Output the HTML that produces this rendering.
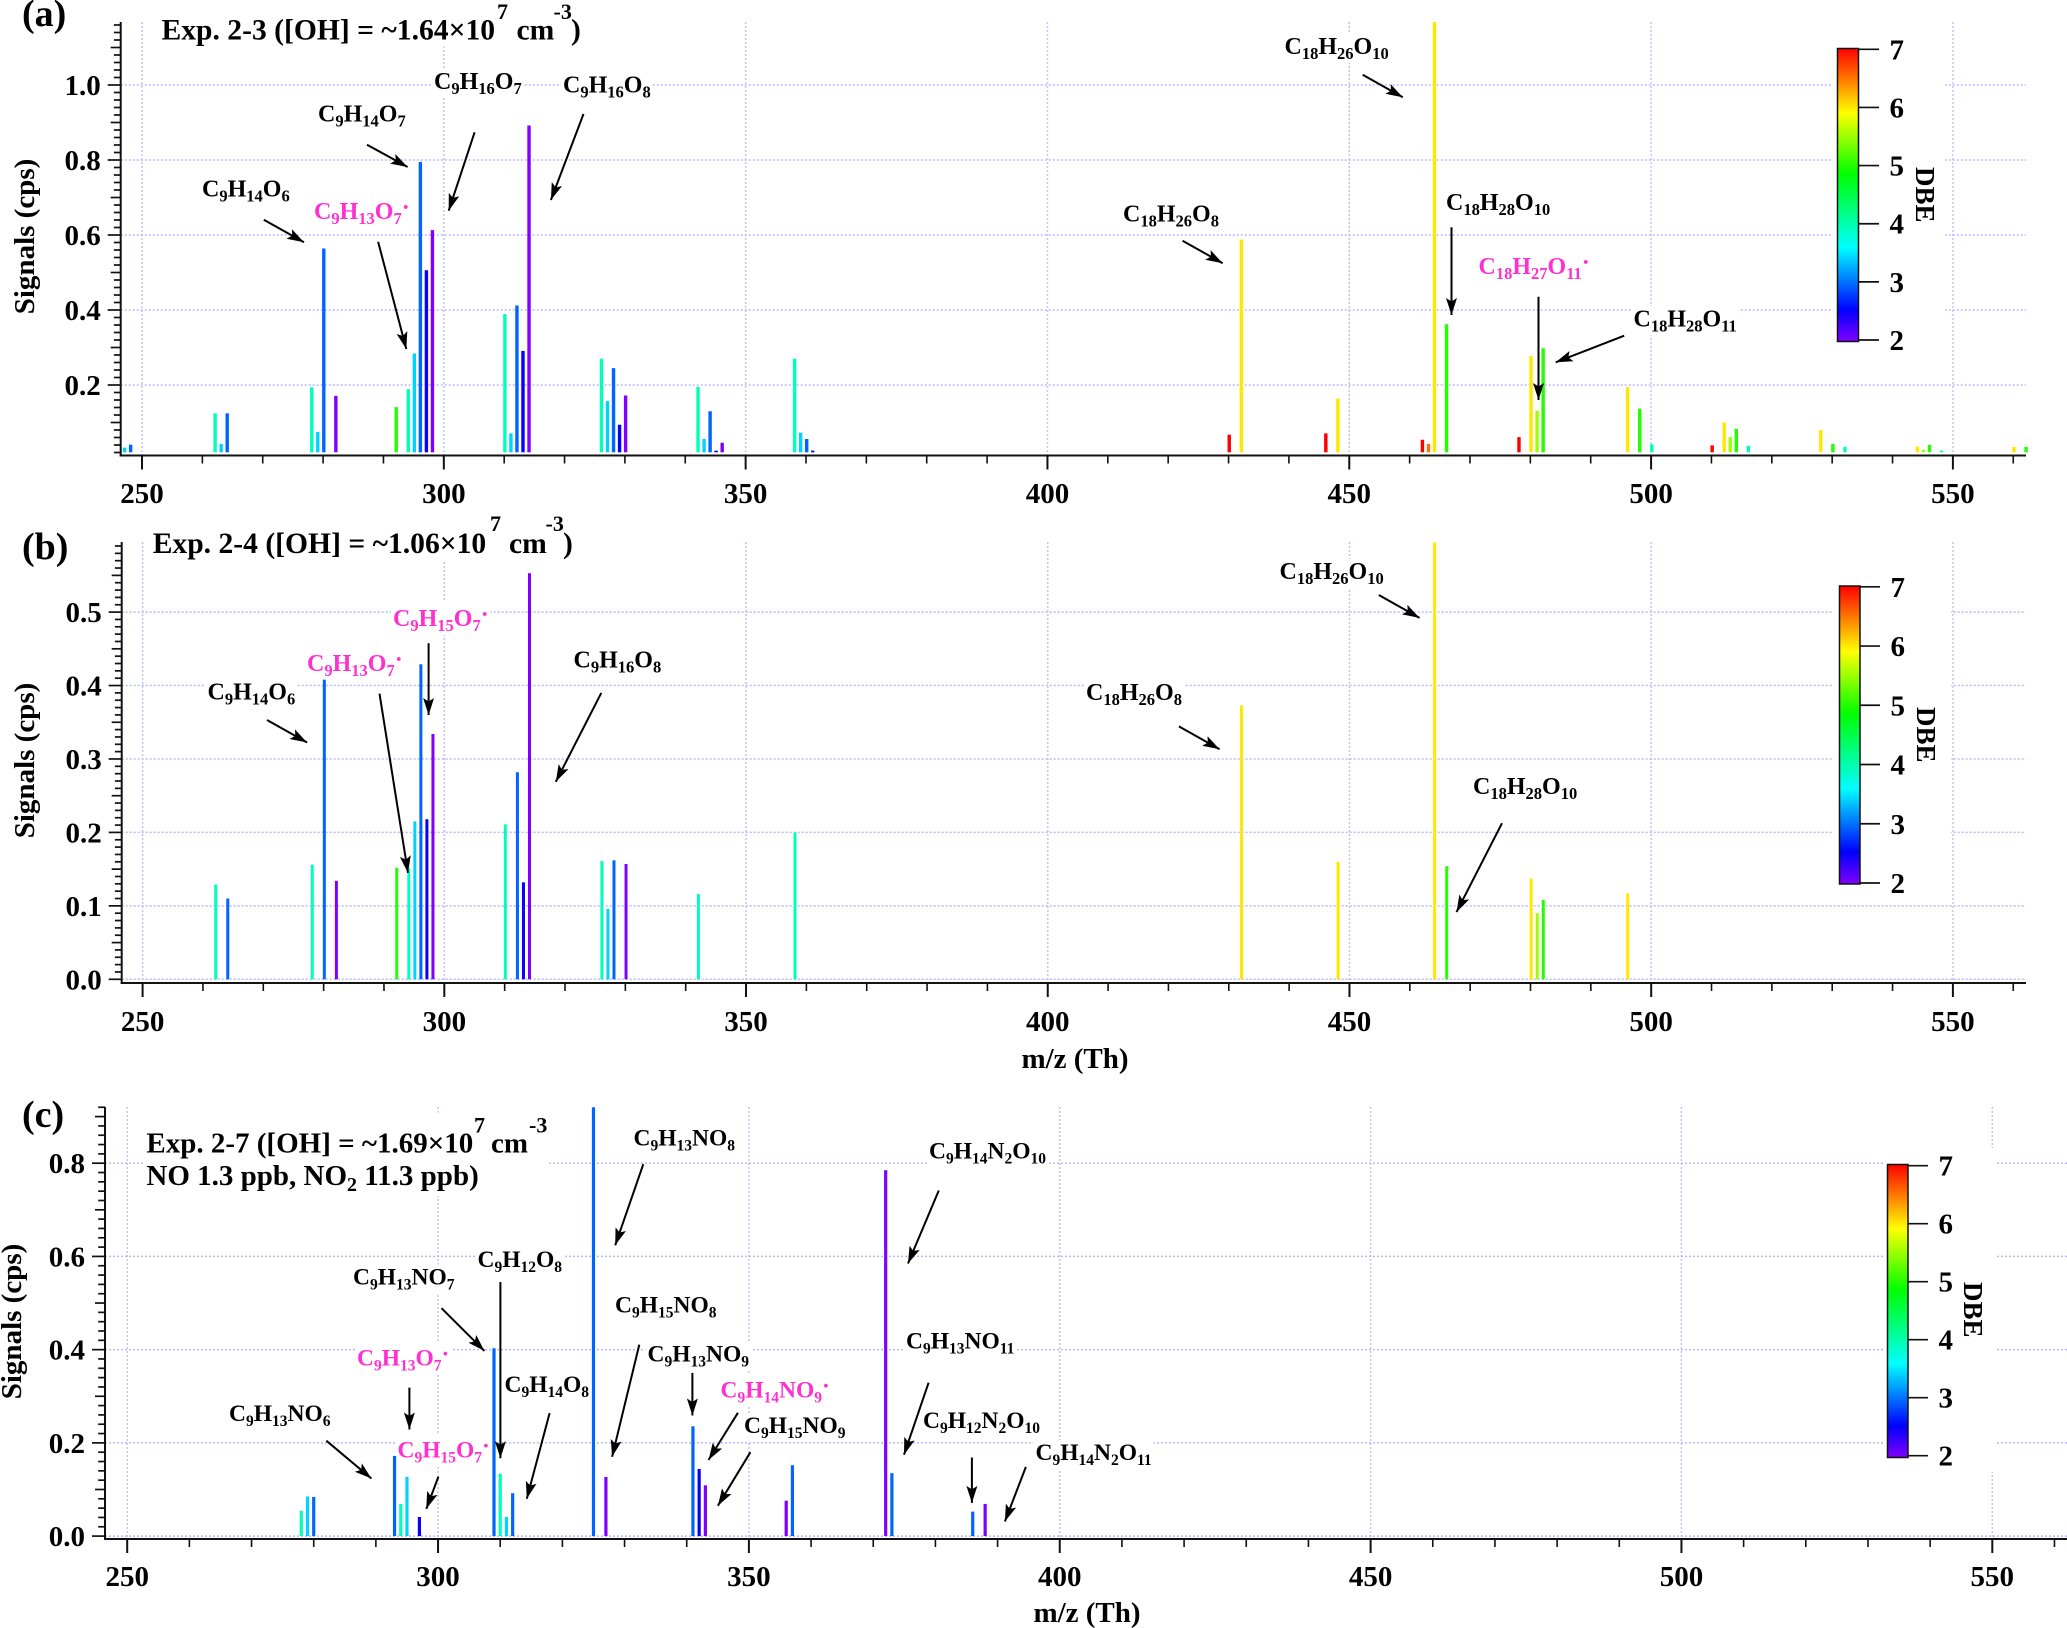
<!DOCTYPE html>
<html lang="en">
<head>
<meta charset="utf-8">
<title>Mass spectra coloured by DBE</title>
<style>
html,body{margin:0;padding:0;background:#fff;}
svg{display:block;font-family:"Liberation Serif",serif;font-weight:bold;}
.lbl{font-size:24px;fill:#000;}
.lbl.c{font-size:23.5px;}
.lbl tspan.s{font-size:16.5px;}
.lbl.c tspan.s{font-size:15.5px;}
.lbl.m{fill:#ff2fd0;}
.ttl{font-size:29.6px;fill:#000;}
.ttl.c{font-size:29px;}
.ttl tspan.u{font-size:22px;}
.ttl tspan.s{font-size:20px;}
.pl{font-size:38px;fill:#000;}
.tick{font-size:29px;fill:#000;}
.ax{font-size:29px;fill:#000;}
.dbe{font-size:27px;fill:#000;}
.arrow{stroke:#000;stroke-width:2;fill:none;}
</style>
</head>
<body>
<svg id="fig" xmlns="http://www.w3.org/2000/svg" width="2067" height="1628" viewBox="0 0 2067 1628">
<defs>
<marker id="ah" markerUnits="userSpaceOnUse" markerWidth="18" markerHeight="12" refX="17" refY="5.5" orient="auto">
<path d="M0 0 L17 5.5 L0 11 L3.5 5.5 Z" fill="#000"/>
</marker>
<linearGradient id="rainbow" x1="0" y1="0" x2="0" y2="1">
<stop offset="0" stop-color="#ff0000"/>
<stop offset="0.22" stop-color="#ffff00"/>
<stop offset="0.428" stop-color="#00ff00"/>
<stop offset="0.68" stop-color="#00ffff"/>
<stop offset="0.892" stop-color="#0000ff"/>
<stop offset="1" stop-color="#8000ff"/>
</linearGradient>
</defs>
<rect x="0" y="0" width="2067" height="1628" fill="#fff"/>
<g id="grid"></g>
<g id="mask">
<rect x="1833" y="30" width="112" height="325" fill="#fff"/>
<rect x="1834" y="570" width="117" height="325" fill="#fff"/>
<rect x="1883" y="1148" width="112" height="324" fill="#fff"/>
</g>
<g id="bars"></g>
<g id="axes"></g>

<!-- colour bars -->
<g>
<rect x="1837.5" y="48.5" width="21" height="293" fill="url(#rainbow)" stroke="#111" stroke-width="1.5"/>
<text class="dbe" transform="translate(1916,167) rotate(90)">DBE</text>
</g>
<g>
<rect x="1839.5" y="586" width="20.5" height="298" fill="url(#rainbow)" stroke="#111" stroke-width="1.5"/>
<text class="dbe" transform="translate(1917,707) rotate(90)">DBE</text>
</g>
<g>
<rect x="1887.5" y="1164.5" width="20.5" height="293" fill="url(#rainbow)" stroke="#111" stroke-width="1.5"/>
<text class="dbe" transform="translate(1964,1282) rotate(90)">DBE</text>
</g>

<!-- panel letters and titles -->
<text class="pl" x="22" y="26">(a)</text>
<text class="pl" x="22" y="559">(b)</text>
<text class="pl" x="22" y="1127">(c)</text>

<text class="ttl masked"><tspan x="161.5" y="39.5">Exp. 2-3 ([OH] = ~1.64×10</tspan><tspan class="u" x="497" y="19">7</tspan><tspan x="516.5" y="39.5">cm</tspan><tspan class="u" x="553.5" y="19">-3</tspan><tspan x="571" y="39.5">)</tspan></text>
<text class="ttl masked"><tspan x="152.7" y="553">Exp. 2-4 ([OH] = ~1.06×10</tspan><tspan class="u" x="490" y="531">7</tspan><tspan x="509" y="553">cm</tspan><tspan class="u" x="545.5" y="531">-3</tspan><tspan x="563" y="553">)</tspan></text>
<text class="ttl c masked"><tspan x="146.4" y="1152.5">Exp. 2-7 ([OH] = ~1.69×10</tspan><tspan class="u" x="474" y="1132.5">7</tspan><tspan x="491" y="1152.5">cm</tspan><tspan class="u" x="529" y="1132.5">-3</tspan><tspan x="146.4" y="1185">NO 1.3 ppb, NO</tspan><tspan class="s" dy="6">2</tspan><tspan dy="-6"> 11.3 ppb)</tspan></text>

<!-- axis titles -->
<text class="ax" text-anchor="middle" transform="translate(34,236.5) rotate(-90)">Signals (cps)</text>
<text class="ax" text-anchor="middle" transform="translate(34,760.5) rotate(-90)">Signals (cps)</text>
<text class="ax" text-anchor="middle" transform="translate(21,1321.5) rotate(-90)">Signals (cps)</text>
<text class="ax" text-anchor="middle" x="1075" y="1068">m/z (Th)</text>
<text class="ax" text-anchor="middle" x="1087" y="1622">m/z (Th)</text>

<!-- panel a annotations -->
<g>
<text class="lbl masked" x="202" y="196.5">C<tspan class="s" dy="5">9</tspan><tspan dy="-5">H</tspan><tspan class="s" dy="5">14</tspan><tspan dy="-5">O</tspan><tspan class="s" dy="5">6</tspan></text>
<text class="lbl masked" x="318" y="121.5">C<tspan class="s" dy="5">9</tspan><tspan dy="-5">H</tspan><tspan class="s" dy="5">14</tspan><tspan dy="-5">O</tspan><tspan class="s" dy="5">7</tspan></text>
<text class="lbl masked" x="434" y="89">C<tspan class="s" dy="5">9</tspan><tspan dy="-5">H</tspan><tspan class="s" dy="5">16</tspan><tspan dy="-5">O</tspan><tspan class="s" dy="5">7</tspan></text>
<text class="lbl masked" x="563" y="92.5">C<tspan class="s" dy="5">9</tspan><tspan dy="-5">H</tspan><tspan class="s" dy="5">16</tspan><tspan dy="-5">O</tspan><tspan class="s" dy="5">8</tspan></text>
<text class="lbl m masked" x="314" y="219">C<tspan class="s" dy="5">9</tspan><tspan dy="-5">H</tspan><tspan class="s" dy="5">13</tspan><tspan dy="-5">O</tspan><tspan class="s" dy="5">7</tspan><tspan dy="-9">·</tspan></text>
<text class="lbl masked" x="1284.5" y="54">C<tspan class="s" dy="5">18</tspan><tspan dy="-5">H</tspan><tspan class="s" dy="5">26</tspan><tspan dy="-5">O</tspan><tspan class="s" dy="5">10</tspan></text>
<text class="lbl masked" x="1123" y="221.5">C<tspan class="s" dy="5">18</tspan><tspan dy="-5">H</tspan><tspan class="s" dy="5">26</tspan><tspan dy="-5">O</tspan><tspan class="s" dy="5">8</tspan></text>
<text class="lbl masked" x="1446" y="210">C<tspan class="s" dy="5">18</tspan><tspan dy="-5">H</tspan><tspan class="s" dy="5">28</tspan><tspan dy="-5">O</tspan><tspan class="s" dy="5">10</tspan></text>
<text class="lbl m masked" x="1478.5" y="274">C<tspan class="s" dy="5">18</tspan><tspan dy="-5">H</tspan><tspan class="s" dy="5">27</tspan><tspan dy="-5">O</tspan><tspan class="s" dy="5">11</tspan><tspan dy="-9">·</tspan></text>
<text class="lbl masked" x="1633.5" y="326.5">C<tspan class="s" dy="5">18</tspan><tspan dy="-5">H</tspan><tspan class="s" dy="5">28</tspan><tspan dy="-5">O</tspan><tspan class="s" dy="5">11</tspan></text>
<line class="arrow" marker-end="url(#ah)" x1="263.8" y1="219.7" x2="304" y2="242.3"/>
<line class="arrow" marker-end="url(#ah)" x1="367" y1="144.7" x2="407.6" y2="167"/>
<line class="arrow" marker-end="url(#ah)" x1="474.6" y1="132.3" x2="448.7" y2="210.7"/>
<line class="arrow" marker-end="url(#ah)" x1="583.5" y1="114" x2="550.9" y2="200"/>
<line class="arrow" marker-end="url(#ah)" x1="378.1" y1="241.7" x2="406.3" y2="349"/>
<line class="arrow" marker-end="url(#ah)" x1="1362.7" y1="74.7" x2="1402.8" y2="97.3"/>
<line class="arrow" marker-end="url(#ah)" x1="1182.6" y1="240.7" x2="1222.7" y2="263.3"/>
<line class="arrow" marker-end="url(#ah)" x1="1451.5" y1="227.3" x2="1451.5" y2="315"/>
<line class="arrow" marker-end="url(#ah)" x1="1538.5" y1="296.7" x2="1538.5" y2="400"/>
<line class="arrow" marker-end="url(#ah)" x1="1624.2" y1="335.7" x2="1555.7" y2="362.3"/>
</g>

<!-- panel b annotations -->
<g>
<text class="lbl masked" x="207.5" y="699.5">C<tspan class="s" dy="5">9</tspan><tspan dy="-5">H</tspan><tspan class="s" dy="5">14</tspan><tspan dy="-5">O</tspan><tspan class="s" dy="5">6</tspan></text>
<text class="lbl m masked" x="307" y="671">C<tspan class="s" dy="5">9</tspan><tspan dy="-5">H</tspan><tspan class="s" dy="5">13</tspan><tspan dy="-5">O</tspan><tspan class="s" dy="5">7</tspan><tspan dy="-9">·</tspan></text>
<text class="lbl m masked" x="393" y="626">C<tspan class="s" dy="5">9</tspan><tspan dy="-5">H</tspan><tspan class="s" dy="5">15</tspan><tspan dy="-5">O</tspan><tspan class="s" dy="5">7</tspan><tspan dy="-9">·</tspan></text>
<text class="lbl masked" x="573.5" y="667.5">C<tspan class="s" dy="5">9</tspan><tspan dy="-5">H</tspan><tspan class="s" dy="5">16</tspan><tspan dy="-5">O</tspan><tspan class="s" dy="5">8</tspan></text>
<text class="lbl masked" x="1279.5" y="579">C<tspan class="s" dy="5">18</tspan><tspan dy="-5">H</tspan><tspan class="s" dy="5">26</tspan><tspan dy="-5">O</tspan><tspan class="s" dy="5">10</tspan></text>
<text class="lbl masked" x="1086" y="700">C<tspan class="s" dy="5">18</tspan><tspan dy="-5">H</tspan><tspan class="s" dy="5">26</tspan><tspan dy="-5">O</tspan><tspan class="s" dy="5">8</tspan></text>
<text class="lbl masked" x="1473" y="794">C<tspan class="s" dy="5">18</tspan><tspan dy="-5">H</tspan><tspan class="s" dy="5">28</tspan><tspan dy="-5">O</tspan><tspan class="s" dy="5">10</tspan></text>
<line class="arrow" marker-end="url(#ah)" x1="267" y1="720" x2="307.1" y2="742.5"/>
<line class="arrow" marker-end="url(#ah)" x1="379.5" y1="693.6" x2="408" y2="872.9"/>
<line class="arrow" marker-end="url(#ah)" x1="428.6" y1="643.2" x2="428.6" y2="715"/>
<line class="arrow" marker-end="url(#ah)" x1="601.3" y1="692.9" x2="555.8" y2="781.8"/>
<line class="arrow" marker-end="url(#ah)" x1="1378.8" y1="595" x2="1419.5" y2="617.9"/>
<line class="arrow" marker-end="url(#ah)" x1="1178.9" y1="726.4" x2="1219.6" y2="749.3"/>
<line class="arrow" marker-end="url(#ah)" x1="1502" y1="823.2" x2="1456.5" y2="912.1"/>
</g>

<!-- panel c annotations -->
<g>
<text class="lbl c masked" x="229" y="1421">C<tspan class="s" dy="5">9</tspan><tspan dy="-5">H</tspan><tspan class="s" dy="5">13</tspan><tspan dy="-5">NO</tspan><tspan class="s" dy="5">6</tspan></text>
<text class="lbl c masked" x="353" y="1284.5">C<tspan class="s" dy="5">9</tspan><tspan dy="-5">H</tspan><tspan class="s" dy="5">13</tspan><tspan dy="-5">NO</tspan><tspan class="s" dy="5">7</tspan></text>
<text class="lbl c masked" x="477.5" y="1267">C<tspan class="s" dy="5">9</tspan><tspan dy="-5">H</tspan><tspan class="s" dy="5">12</tspan><tspan dy="-5">O</tspan><tspan class="s" dy="5">8</tspan></text>
<text class="lbl c m masked" x="357" y="1365.5">C<tspan class="s" dy="5">9</tspan><tspan dy="-5">H</tspan><tspan class="s" dy="5">13</tspan><tspan dy="-5">O</tspan><tspan class="s" dy="5">7</tspan><tspan dy="-9">·</tspan></text>
<text class="lbl c masked" x="504.5" y="1392">C<tspan class="s" dy="5">9</tspan><tspan dy="-5">H</tspan><tspan class="s" dy="5">14</tspan><tspan dy="-5">O</tspan><tspan class="s" dy="5">8</tspan></text>
<text class="lbl c m masked" x="397.5" y="1457.5">C<tspan class="s" dy="5">9</tspan><tspan dy="-5">H</tspan><tspan class="s" dy="5">15</tspan><tspan dy="-5">O</tspan><tspan class="s" dy="5">7</tspan><tspan dy="-9">·</tspan></text>
<text class="lbl c masked" x="633.5" y="1145.5">C<tspan class="s" dy="5">9</tspan><tspan dy="-5">H</tspan><tspan class="s" dy="5">13</tspan><tspan dy="-5">NO</tspan><tspan class="s" dy="5">8</tspan></text>
<text class="lbl c masked" x="615" y="1312.5">C<tspan class="s" dy="5">9</tspan><tspan dy="-5">H</tspan><tspan class="s" dy="5">15</tspan><tspan dy="-5">NO</tspan><tspan class="s" dy="5">8</tspan></text>
<text class="lbl c masked" x="647.5" y="1361.5">C<tspan class="s" dy="5">9</tspan><tspan dy="-5">H</tspan><tspan class="s" dy="5">13</tspan><tspan dy="-5">NO</tspan><tspan class="s" dy="5">9</tspan></text>
<text class="lbl c m masked" x="720.5" y="1397.5">C<tspan class="s" dy="5">9</tspan><tspan dy="-5">H</tspan><tspan class="s" dy="5">14</tspan><tspan dy="-5">NO</tspan><tspan class="s" dy="5">9</tspan><tspan dy="-9">·</tspan></text>
<text class="lbl c masked" x="744" y="1433">C<tspan class="s" dy="5">9</tspan><tspan dy="-5">H</tspan><tspan class="s" dy="5">15</tspan><tspan dy="-5">NO</tspan><tspan class="s" dy="5">9</tspan></text>
<text class="lbl c masked" x="929" y="1158.5">C<tspan class="s" dy="5">9</tspan><tspan dy="-5">H</tspan><tspan class="s" dy="5">14</tspan><tspan dy="-5">N</tspan><tspan class="s" dy="5">2</tspan><tspan dy="-5">O</tspan><tspan class="s" dy="5">10</tspan></text>
<text class="lbl c masked" x="906" y="1348.5">C<tspan class="s" dy="5">9</tspan><tspan dy="-5">H</tspan><tspan class="s" dy="5">13</tspan><tspan dy="-5">NO</tspan><tspan class="s" dy="5">11</tspan></text>
<text class="lbl c masked" x="923" y="1428">C<tspan class="s" dy="5">9</tspan><tspan dy="-5">H</tspan><tspan class="s" dy="5">12</tspan><tspan dy="-5">N</tspan><tspan class="s" dy="5">2</tspan><tspan dy="-5">O</tspan><tspan class="s" dy="5">10</tspan></text>
<text class="lbl c masked" x="1035.5" y="1460">C<tspan class="s" dy="5">9</tspan><tspan dy="-5">H</tspan><tspan class="s" dy="5">14</tspan><tspan dy="-5">N</tspan><tspan class="s" dy="5">2</tspan><tspan dy="-5">O</tspan><tspan class="s" dy="5">11</tspan></text>
<line class="arrow" marker-end="url(#ah)" x1="326.3" y1="1440.7" x2="371.4" y2="1478.5"/>
<line class="arrow" marker-end="url(#ah)" x1="441.5" y1="1308.2" x2="484.4" y2="1350.9"/>
<line class="arrow" marker-end="url(#ah)" x1="500.4" y1="1282" x2="500.4" y2="1458.2"/>
<line class="arrow" marker-end="url(#ah)" x1="409.4" y1="1387.6" x2="409.4" y2="1429.5"/>
<line class="arrow" marker-end="url(#ah)" x1="549.6" y1="1413.1" x2="526.8" y2="1498.7"/>
<line class="arrow" marker-end="url(#ah)" x1="438.4" y1="1476.7" x2="426.3" y2="1508.9"/>
<line class="arrow" marker-end="url(#ah)" x1="643.3" y1="1164.2" x2="615.2" y2="1245.3"/>
<line class="arrow" marker-end="url(#ah)" x1="639.3" y1="1344.6" x2="612.1" y2="1456.8"/>
<line class="arrow" marker-end="url(#ah)" x1="692.4" y1="1372.9" x2="692.4" y2="1415.5"/>
<line class="arrow" marker-end="url(#ah)" x1="737.9" y1="1412.8" x2="708.5" y2="1460"/>
<line class="arrow" marker-end="url(#ah)" x1="750.4" y1="1452.2" x2="717.9" y2="1505.7"/>
<line class="arrow" marker-end="url(#ah)" x1="938.8" y1="1190.5" x2="908" y2="1263.5"/>
<line class="arrow" marker-end="url(#ah)" x1="928.6" y1="1382.7" x2="904" y2="1454.7"/>
<line class="arrow" marker-end="url(#ah)" x1="971.9" y1="1457.5" x2="971.9" y2="1502.9"/>
<line class="arrow" marker-end="url(#ah)" x1="1025.9" y1="1466.9" x2="1004.9" y2="1521.5"/>
</g>
</svg>

<script>
// ---- chart data ----
const panelAMz = [247,248,262,263,264,278,279,280,282,292,294,295,296,297,298,310,311,312,313,314,326,327,328,329,330,342,343,344,345,346,358,359,360,361,430,432,446,448,462,463,464,466,478,480,481,482,496,498,500,510,512,513,514,516,528,530,532,544,545,546,548,560,562];
const panelASignals = [0.033,0.041,0.1245,0.043,0.1245,0.194,0.075,0.564,0.171,0.141,0.189,0.284,0.795,0.506,0.613,0.389,0.071,0.412,0.291,0.892,0.27,0.157,0.245,0.094,0.172,0.195,0.056,0.13,0.025,0.046,0.27,0.073,0.056,0.025,0.0675,0.588,0.071,0.164,0.054,0.043,1.2,0.362,0.061,0.277,0.131,0.298,0.195,0.137,0.042,0.039,0.1,0.061,0.083,0.038,0.08,0.043,0.035,0.036,0.027,0.04,0.025,0.035,0.035];
const panelADbe = [3.5,3,4,3.5,3,4,3.5,3,2,5,4,3.5,3,2.5,2,4,3.5,3,2.5,2,4,3.5,3,2.5,2,4,3.5,3,2.5,2,4,3.5,3,2.5,7,6,7,6,7,6.5,6,5,7,6,5.5,5,6,5,4,7,6,5.5,5,4,6,5,4,6,5.5,5,4,6,5];

const panelBMz = [262,264,278,280,282,292,294,295,296,297,298,310,312,313,314,326,327,328,330,342,358,432,448,464,466,480,481,482,496];
const panelBSignals = [0.129,0.11,0.156,0.408,0.134,0.152,0.151,0.215,0.429,0.218,0.334,0.211,0.282,0.132,0.553,0.161,0.096,0.162,0.157,0.116,0.2,0.373,0.16,0.6,0.154,0.137,0.09,0.108,0.117];
const panelBDbe = [4,3,4,3,2,5,4,3.5,3,2.5,2,4,3,2.5,2,4,3.5,3,2,4,4,6,6,6,5,6,5.5,5,6];

const panelCMz = [278,279,280,293,294,295,297,309,310,311,312,325,327,341,342,343,356,357,372,373,386,388];
const panelCSignals = [0.054,0.085,0.084,0.172,0.069,0.127,0.041,0.403,0.134,0.041,0.092,0.93,0.127,0.2355,0.144,0.109,0.076,0.152,0.785,0.135,0.0525,0.069];
const panelCDbe = [4,3.5,3,3,4,3.5,2.5,3,4,3.5,3,3,2,3,2.5,2,2,3,2,3,3,2];

const xMajorTicks = [250,300,350,400,450,500,550];
const xMinorTicks = [260,270,280,290,310,320,330,340,360,370,380,390,410,420,430,440,460,470,480,490,510,520,530,540,560];
const panelAYLabels = ['0.2','0.4','0.6','0.8','1.0'];
const panelBYLabels = ['0.0','0.1','0.2','0.3','0.4','0.5'];
const panelCYLabels = ['0.0','0.2','0.4','0.6','0.8'];
const dbeTicks = [2,3,4,5,6,7];

// ---- helpers ----
const NS = 'http://www.w3.org/2000/svg';
const gridG = document.getElementById('grid');
const barsG = document.getElementById('bars');
const axesG = document.getElementById('axes');
const maskG = document.getElementById('mask');

function linear(d0, d1, r0, r1) {
  return function (v) { return r0 + (v - d0) * (r1 - r0) / (d1 - d0); };
}
function dbeColor(d) {
  const stops = [[2,128,0,255],[2.54,0,0,255],[3.7,0,255,255],[4.86,0,255,0],[5.9,255,255,0],[7,255,0,0]];
  for (let i = 0; i < stops.length - 1; i++) {
    const a = stops[i], b = stops[i + 1];
    if (d <= b[0]) {
      const t = Math.max(0, (d - a[0]) / (b[0] - a[0]));
      return 'rgb(' + [1,2,3].map(function (k) { return Math.round(a[k] + (b[k] - a[k]) * t); }).join(',') + ')';
    }
  }
  return 'rgb(255,0,0)';
}
function seg(parent, x1, y1, x2, y2, stroke, width, dash) {
  const el = document.createElementNS(NS, 'line');
  el.setAttribute('x1', x1);
  el.setAttribute('y1', y1);
  el.setAttribute('x2', x2);
  el.setAttribute('y2', y2);
  el.setAttribute('stroke', stroke);
  el.setAttribute('stroke-width', width);
  if (dash) el.setAttribute('stroke-dasharray', dash);
  parent.appendChild(el);
  return el;
}
function label(parent, x, y, txt, anchor) {
  const el = document.createElementNS(NS, 'text');
  el.setAttribute('class', 'tick');
  el.setAttribute('x', x);
  el.setAttribute('y', y);
  el.setAttribute('text-anchor', anchor);
  el.textContent = txt;
  parent.appendChild(el);
  return el;
}

function drawPanel(p) {
  const x = linear(250, 550, p.x250, p.x550);
  const y = linear(p.yRef0, p.yRef1, p.pyRef0, p.pyRef1);
  const top = p.top, ax = p.axisY, left = p.axisX, right = p.right;

  // gridlines
  xMajorTicks.forEach(function (t) {
    const el = seg(gridG, x(t), top, x(t), ax, '#c2c2ff', 1.5, '2 2');
    
    
  });
  p.yLabels.forEach(function (s) {
    const el = seg(gridG, left, y(parseFloat(s)), right, y(parseFloat(s)), '#b8b8ff', 1.5, '2 2');
    
    
  });

  // bars
  p.mz.forEach(function (m, i) {
    const v = Math.min(p.signals[i], p.yTop);
    const r = document.createElementNS(NS, 'rect');
    const yT = y(v), yB = y(p.base);
    r.setAttribute('x', x(m) + p.barShift - p.barW / 2);
    r.setAttribute('y', yT);
    r.setAttribute('width', p.barW);
    r.setAttribute('height', Math.max(0, yB - yT));
    r.setAttribute('fill', dbeColor(p.dbe[i]));
    
    
    barsG.appendChild(r);
  });

  // axis lines
  const yAxis = seg(axesG, left, top, left, ax + 1, '#111', 2);
  
  
  const xAxis = seg(axesG, left - 1, ax, right, ax, '#111', 2);
  
  

  // x ticks
  xMajorTicks.forEach(function (t) {
    const el = seg(axesG, x(t), ax, x(t), ax + 14, '#111', 2);
    
    
    const tl = label(axesG, x(t), p.xLabelY, String(t), 'middle');
    
    
  });
  xMinorTicks.forEach(function (t) {
    const el = seg(axesG, x(t), ax, x(t), ax + 8, '#111', 1.6);
    
    
  });

  // y ticks
  const n = Math.floor((p.yTop - p.yStart) / p.yStep + 1e-6);
  for (let k = 0; k <= n; k++) {
    const v = p.yStart + k * p.yStep;
    const units = Math.round(v / p.yStep);
    const len = units % 10 === 0 ? 13 : (units % 5 === 0 ? 10 : 6.8);
    const el = seg(axesG, left, y(v), left - len, y(v), '#111', 1.7);
    
    
  }
  p.yLabels.forEach(function (s) {
    const tl = label(axesG, left - 20, y(parseFloat(s)) + 10, s, 'end');
    
    
  });

  // colour bar ticks
  const cb = linear(2, 7, p.cbY2, p.cbY7);
  dbeTicks.forEach(function (d) {
    const el = seg(axesG, p.cbX, cb(d), p.cbX + 20, cb(d), '#111', 1.7);
    
    
    const tl = label(axesG, p.cbX + 30.5, cb(d) + 10, String(d), 'start');
    
    
  });
}

drawPanel({id:'panel-a', mz:panelAMz, signals:panelASignals, dbe:panelADbe, yLabels:panelAYLabels,
  x250:142, x550:1952.9, yRef0:0, yRef1:1, pyRef0:460, pyRef1:85, top:22, axisY:455.5, axisX:120.7, right:2026,
  base:0.0205, yTop:1.168, yStart:0.02, yStep:0.02, barW:3.4, barShift:0.7, xLabelY:503, cbX:1859, cbY2:340, cbY7:49.3});
drawPanel({id:'panel-b', mz:panelBMz, signals:panelBSignals, dbe:panelBDbe, yLabels:panelBYLabels,
  x250:142.6, x550:1952.9, yRef0:0, yRef1:0.5, pyRef0:979.3, pyRef1:612.1, top:542, axisY:983, axisX:121.7, right:2026,
  base:0, yTop:0.595, yStart:0, yStep:0.01, barW:3, barShift:0.7, xLabelY:1031, cbX:1860, cbY2:883, cbY7:586.8});
drawPanel({id:'panel-c', mz:panelCMz, signals:panelCSignals, dbe:panelCDbe, yLabels:panelCYLabels,
  x250:127.2, x550:1992.3, yRef0:0, yRef1:0.8, pyRef0:1536.1, pyRef1:1163.2, top:1107, axisY:1539, axisX:105, right:2067,
  base:0, yTop:0.92, yStart:0, yStep:0.02, barW:3.2, barShift:0, xLabelY:1586, cbX:1908, cbY2:1455.7, cbY7:1165.7});

// white boxes behind annotation text, hiding the gridlines beneath
document.querySelectorAll('.masked').forEach(function (t) {
  const b = t.getBBox();
  const r = document.createElementNS(NS, 'rect');
  r.setAttribute('x', b.x - 2);
  r.setAttribute('y', b.y);
  r.setAttribute('width', b.width + 4);
  r.setAttribute('height', b.height);
  r.setAttribute('fill', '#fff');
  
  
  maskG.appendChild(r);
});
</script>
</body>
</html>
